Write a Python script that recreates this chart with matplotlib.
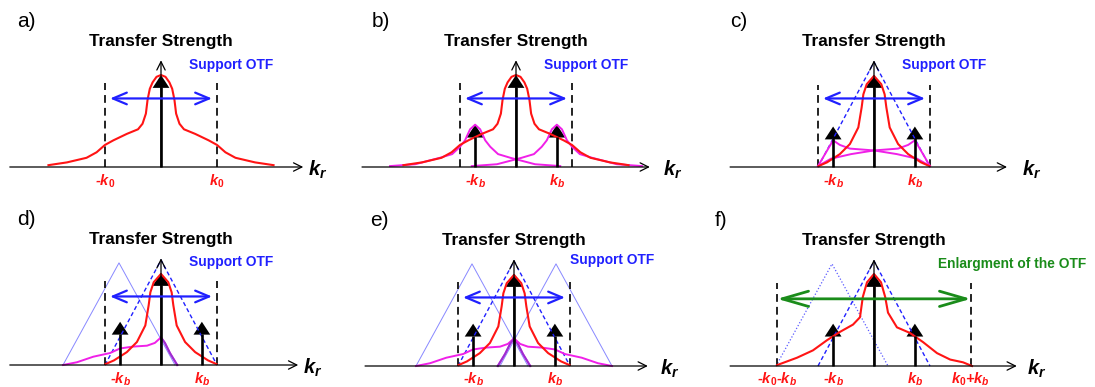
import matplotlib
matplotlib.use("Agg")
import matplotlib.pyplot as plt
import numpy as np

plt.rcParams['font.family'] = ['Liberation Sans', 'DejaVu Sans']
plt.rcParams['mathtext.fontset'] = 'custom'
plt.rcParams['mathtext.it'] = 'Liberation Sans:italic:bold'
plt.rcParams['mathtext.rm'] = 'Liberation Sans:bold'
plt.rcParams['mathtext.bf'] = 'Liberation Sans:bold'

RED = '#ff1414'
MAG = '#f020e8'
PURPLE = '#9a30d0'
BLUE = '#2020ff'
LBLUE = '#8888ff'
GREEN = '#1a8c1a'

# k in units of k0, heights in units of the OTF peak
k0 = 1.0
kb = 0.73
support_top = 1.14     # apex of the OTF support triangle
shifted_top = 1.11     # apex of the shifted triangles

# wide OTF (panels a, b), right half
wide_k = [0, 0.08, 0.15, 0.20, 0.24, 0.27, 0.33, 0.41, 0.61, 0.85, 1.0, 1.15, 1.33, 1.68, 2.01]
wide_h = [1.0, 0.98, 0.92, 0.85, 0.73, 0.58, 0.47, 0.41, 0.36, 0.29, 0.24, 0.16, 0.10, 0.05, 0.02]

# side band in b (centred on its own peak), right half
side_k = [0, 0.09, 0.18, 0.27, 0.41, 0.63, 1.07, 1.52]
side_h = [0.46, 0.41, 0.29, 0.22, 0.14, 0.10, 0.03, 0.01]

# OTF limited to the support (panels c, d, e), right half
narrow_k = [0, 0.13, 0.19, 0.22, 0.28, 0.43, 0.61, 0.84, 0.99]
narrow_h = [0.99, 0.90, 0.79, 0.65, 0.43, 0.25, 0.14, 0.05, 0.01]

# side band in c (peak at -kb)
band_c_k = [-1.0, -0.875, -0.73, -0.61, -0.43, 0, 0.41, 0.77, 1.0]
band_c_h = [0.01, 0.14, 0.29, 0.24, 0.20, 0.18, 0.14, 0.09, 0.01]

# side band in d and e (left copy)
band_d_k = [-1.75, -1.5, -1.21, -0.91, -0.73, -0.5, -0.25, -0.11, 0, 0.07, 0.16, 0.29]
band_d_h = [0, 0.03, 0.09, 0.13, 0.18, 0.20, 0.21, 0.24, 0.30, 0.24, 0.13, 0]

# reconstructed OTF (panel f)
full_k = [-1.73, -1.375, -1.09, -0.84, -0.61, -0.375, -0.25, -0.20, -0.125, 0,
          0.125, 0.20, 0.25, 0.41, 0.64, 0.875, 1.125, 1.36, 1.59, 1.75]
full_h = [0.01, 0.09, 0.17, 0.28, 0.37, 0.45, 0.53, 0.75, 0.91, 1.0,
          0.91, 0.75, 0.58, 0.42, 0.36, 0.26, 0.14, 0.07, 0.04, 0.0]

letters = ['a)', 'b)', 'c)', 'd)', 'e)', 'f)']
tick_a = [r'-$k_{\mathit{0}}$', r'$k_{\mathit{0}}$']
tick_b = [r'-$k_b$', r'$k_b$']
tick_f = [r'-$k_{\mathit{0}}$-$k_b$', r'-$k_b$', r'$k_b$', r'$k_{\mathit{0}}$+$k_b$']

PX_K = 56.0   # pixels per k0
PX_H = 92.0   # pixels per unit height
W, H = 1095, 387

fig = plt.figure(figsize=(W / 100, H / 100), dpi=100)

XL, XR, YB, YT = -2.9, 3.3, -0.35, 1.75


def panel(cx, by):
    left = (cx + XL * PX_K) / W
    bottom = (H - by + YB * PX_H) / H
    ax = fig.add_axes([left, bottom, (XR - XL) * PX_K / W, (YT - YB) * PX_H / H])
    ax.set_xlim(XL, XR)
    ax.set_ylim(YB, YT)
    ax.axis('off')
    return ax


def mirror(k, h):
    k = np.asarray(k)
    h = np.asarray(h)
    return np.concatenate([-k[::-1], k[1:]]), np.concatenate([h[::-1], h[1:]])


def arrow(ax, p0, p1, style, lw, color, ms=10):
    ax.annotate('', xy=p1, xytext=p0, annotation_clip=False,
                arrowprops=dict(arrowstyle=style, lw=lw, color=color,
                                shrinkA=0, shrinkB=0, mutation_scale=ms))


def axes_lines(ax, lo, hi, letter, kr_x):
    arrow(ax, (lo, 0), (hi, 0), '->,head_length=0.6,head_width=0.3', 0.9, 'black')
    arrow(ax, (0, 0), (0, 1.16), '->,head_length=0.6,head_width=0.3', 0.9, 'black')
    ax.text(kr_x, -0.03, '$k_r$', fontsize=14.5, ha='left', va='center')
    ax.text(-2.57 if letter != 'f)' else -2.84, 1.58, letter, fontsize=15,
            ha='left', va='center')
    ax.text(0, 1.36, 'Transfer Strength', fontsize=12.4, fontweight='bold',
            ha='center', va='center')


def stem(ax, x, tip):
    ax.plot([x, x], [0, tip - 0.13], color='black', lw=1.9, solid_capstyle='butt')
    ax.fill([x - 0.15, x + 0.15, x], [tip - 0.14, tip - 0.14, tip], color='black', lw=0)


def markers(ax, xs, top):
    for x in xs:
        ax.plot([x, x], [0, top], color='#222222', lw=1.4, dashes=(4, 2.6))


def support_arrow(ax):
    arrow(ax, (-0.91, 0.745), (0.91, 0.745), '<->,head_length=1.0,head_width=0.42', 1.6, BLUE)


def support_label(ax, x, y):
    ax.text(x, y, 'Support OTF', fontsize=9.9, fontweight='bold', color=BLUE,
            ha='left', va='center')


def triangle(ax, c, top, style):
    xs = [c - 1, c, c + 1]
    ys = [0, top, 0]
    if style == 'thin':
        ax.plot(xs, ys, color=LBLUE, lw=0.7)
    elif style == 'dotted':
        ax.plot(xs, ys, color='#5a5aff', lw=0.9, dashes=(1, 1.6))
    else:
        ax.plot(xs, ys, color=BLUE, lw=1.0, dashes=(3, 2))


def ticks(ax, xs, labels):
    for x, lab in zip(xs, labels):
        ax.text(x, -0.15, lab, fontsize=10.5, color=RED, ha='center', va='center',
                fontweight='bold', style='italic')


# a) ---------------------------------------------------------------
ax = panel(161, 167)
axes_lines(ax, -2.70, 2.54, 'a)', 2.62)
markers(ax, [-k0, k0], 0.91)
x, y = mirror(wide_k, wide_h)
ax.plot(x, y, color=RED, lw=1.5)
stem(ax, 0, 1.0)
support_arrow(ax)
support_label(ax, 0.5, 1.11)
ticks(ax, [-k0, k0], tick_a)

# b) ---------------------------------------------------------------
ax = panel(516, 167)
axes_lines(ax, -2.75, 2.39, 'b)', 2.63)
markers(ax, [-k0, k0], 0.91)
sx, sy = mirror(side_k, side_h)
ax.plot(sx - kb, sy, color=MAG, lw=1.4)
ax.plot(sx + kb, sy, color=MAG, lw=1.4)
x, y = mirror(wide_k, wide_h)
ax.plot(x, y, color=RED, lw=1.5)
stem(ax, 0, 1.0)
stem(ax, -kb, 0.46)
stem(ax, kb, 0.46)
support_arrow(ax)
support_label(ax, 0.5, 1.11)
ticks(ax, [-kb, kb], tick_b)

# c) ---------------------------------------------------------------
ax = panel(874, 167)
axes_lines(ax, -2.57, 2.375, 'c)', 2.64)
markers(ax, [-k0, k0], 0.89)
triangle(ax, 0, support_top, 'dashed')
ax.plot(band_c_k, band_c_h, color=MAG, lw=1.4)
ax.plot(-np.asarray(band_c_k), band_c_h, color=MAG, lw=1.4)
x, y = mirror(narrow_k, narrow_h)
ax.plot(x, y, color=RED, lw=1.5)
stem(ax, 0, 1.0)
stem(ax, -kb, 0.44)
stem(ax, kb, 0.44)
support_arrow(ax)
support_label(ax, 0.5, 1.11)
ticks(ax, [-kb, kb], tick_b)

# d) ---------------------------------------------------------------
ax = panel(161, 365)
axes_lines(ax, -2.70, 2.45, 'd)', 2.54)
triangle(ax, -kb - 0.02, shifted_top, 'thin')
triangle(ax, 0, support_top, 'dashed')
markers(ax, [-k0, k0], 0.91)
bk = np.asarray(band_d_k)
bh = np.asarray(band_d_h)
ax.plot(bk, bh, color=MAG, lw=1.4)
ax.plot(bk[bk >= 0], bh[bk >= 0], color=PURPLE, lw=1.4)
x, y = mirror(narrow_k, narrow_h)
ax.plot(x, y, color=RED, lw=1.5)
stem(ax, 0, 1.0)
stem(ax, -kb, 0.47)
stem(ax, kb, 0.47)
support_arrow(ax)
support_label(ax, 0.5, 1.12)
ticks(ax, [-kb, kb], tick_b)

# e) ---------------------------------------------------------------
ax = panel(514, 366)
axes_lines(ax, -2.66, 2.39, 'e)', 2.61)
triangle(ax, -kb - 0.02, shifted_top, 'thin')
triangle(ax, kb + 0.02, shifted_top, 'thin')
triangle(ax, 0, support_top, 'dashed')
markers(ax, [-k0, k0], 0.91)
for sgn in (1, -1):
    ax.plot(sgn * bk, bh, color=MAG, lw=1.4)
    ax.plot(sgn * bk[bk >= 0], bh[bk >= 0], color=PURPLE, lw=1.4)
x, y = mirror(narrow_k, narrow_h)
ax.plot(x, y, color=RED, lw=1.5)
stem(ax, 0, 1.0)
stem(ax, -kb, 0.46)
stem(ax, kb, 0.46)
support_arrow(ax)
support_label(ax, 1.0, 1.15)
ticks(ax, [-kb, kb], tick_b)

# f) ---------------------------------------------------------------
ax = panel(874, 366)
axes_lines(ax, -2.57, 2.55, 'f)', 2.73)
triangle(ax, -kb - 0.02, shifted_top, 'dotted')
triangle(ax, 0, support_top, 'dashed')
markers(ax, [-k0 - kb, k0 + kb], 0.90)
ax.plot(full_k, full_h, color=RED, lw=1.5)
stem(ax, 0, 1.0)
stem(ax, -kb, 0.46)
stem(ax, kb, 0.46)
arrow(ax, (-k0 - kb, 0.73), (k0 + kb, 0.73), '<->,head_length=1.9,head_width=0.55', 2.0, GREEN)
ax.text(1.14, 1.11, 'Enlargment of the OTF', fontsize=9.9, fontweight='bold',
        color=GREEN, ha='left', va='center')
ticks(ax, [-k0 - kb, -kb, kb, k0 + kb], tick_f)

fig.savefig('out.png', dpi=100)
